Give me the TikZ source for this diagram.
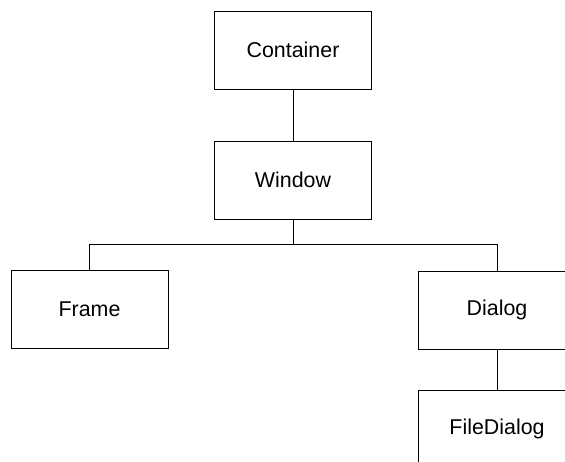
\documentclass[tikz,border=0pt]{standalone}
\usepackage{fontspec}
\setmainfont{Liberation Sans}

\begin{document}
\begin{tikzpicture}[x=0.5pt,y=-0.5pt,
  classbox/.style={draw,line width=0.5pt,minimum width=78.5pt,minimum height=39pt,
    inner sep=0pt,font=\fontsize{10.7}{13}\selectfont},
  link/.style={line width=0.5pt}]
\useasboundingbox (0,0) rectangle (565,461);
\clip (0,0) rectangle (565,461);
\node[classbox] (container) at (293,50) {Container};
\node[classbox] (window) at (293,180) {Window};
\node[classbox] (frame) at (89.5,309.5) {Frame};
\node[classbox] (dialog) at (497,310) {Dialog};
\node[classbox] (filedialog) at (497,429) {FileDialog};
\coordinate (split) at (293,244);
\draw[link] (container) -- (window);
\draw[link] (window) -- (split);
\draw[link] (split) -| (frame);
\draw[link] (split) -| (dialog);
\draw[link] (dialog) -- (filedialog);
\end{tikzpicture}
\end{document}
